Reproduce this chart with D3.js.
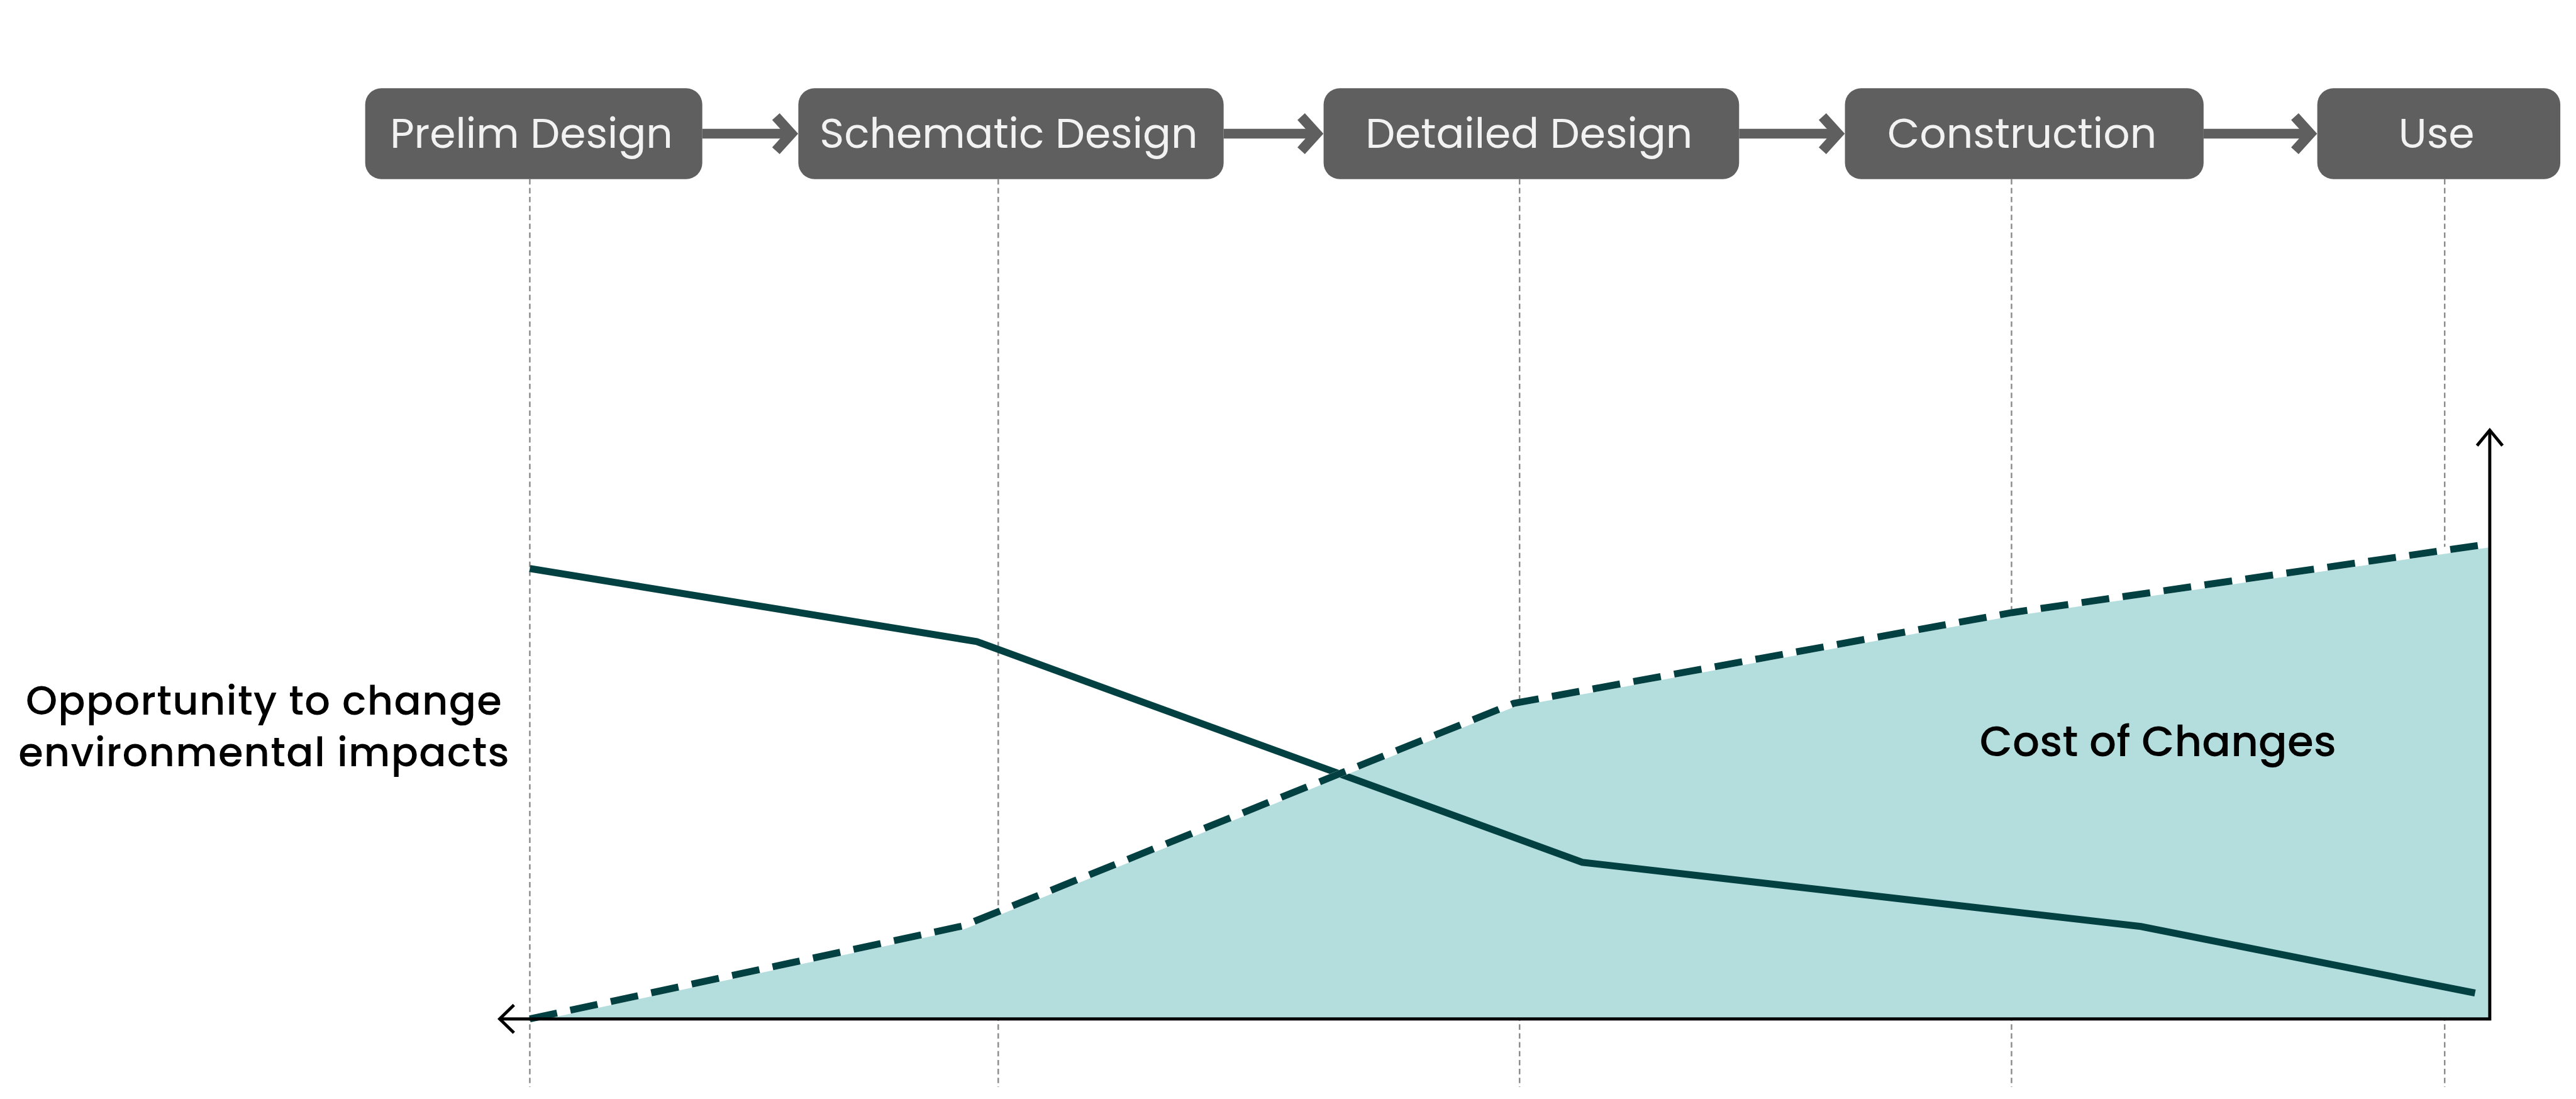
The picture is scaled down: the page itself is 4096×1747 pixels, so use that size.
<!DOCTYPE html>
<html>
<head>
<meta charset="utf-8">
<script src="https://cdn.jsdelivr.net/npm/d3@7"></script>
<style>
  html, body { margin: 0; padding: 0; background: #ffffff; overflow: hidden; }
  svg { display: block; }
</style>
</head>
<body>
<div id="chart"></div>
<script>
// ---------------- DATA ----------------
// Project stages (header boxes)
const stages = ["Prelim Design", "Schematic Design", "Detailed Design", "Construction", "Use"];
// Stage box extents, in project-progress units (same x domain as curves)
const stageStart = [-8.4, 13.7, 40.5, 67.1, 91.2];
const stageEnd   = [8.8, 35.4, 61.7, 85.4, 103.6];
// Stage marker (dashed gridline) positions, progress units
const stageMarkers = [0, 23.9, 50.5, 75.6, 97.7];

// Opportunity to change environmental impacts (solid line)
const opportunityX = [0, 22.8, 53.7, 82.2, 99.25];
const opportunityY = [76.5, 64.1, 26.6, 15.7, 4.4];

// Cost of changes (dashed line + filled area)
const costX = [0, 22.1, 50.2, 75.6, 100];
const costY = [0, 15.8, 53.6, 69.0, 80.7];

const opportunityLabel = ["Opportunity to change", "environmental impacts"];
const costLabel = "Cost of Changes";

// ---------------- LAYOUT (reference pixel space) ----------------
const W = 6661, H = 2841;
const svg = d3.select("#chart").append("svg")
  .attr("width", 4096).attr("height", 1747)
  .attr("viewBox", `0 0 ${W} ${H}`);

const FONT = "Poppins, Inter, 'Open Sans', sans-serif";
const DARK = "#034042";
const FILL = "#b4dede";

const x = d3.scaleLinear().domain([0, 100]).range([1370, 6438]);
const y = d3.scaleLinear().domain([0, 100]).range([2634, 1112]);

const boxTop = 228, boxBottom = 463;
const boxMid = (boxTop + boxBottom) / 2;

// ---- Stage dashed gridlines
svg.append("g").selectAll("line").data(stageMarkers).join("line")
  .attr("x1", d => x(d)).attr("x2", d => x(d))
  .attr("y1", boxBottom).attr("y2", 2810)
  .attr("stroke", "#8c8c8c").attr("stroke-width", 4)
  .attr("stroke-dasharray", "14 9");

// ---- Cost area
const costData = costX.map((v, i) => ({ x: v, y: costY[i] }));
const area = d3.area().x(d => x(d.x)).y0(y(0)).y1(d => y(d.y));
svg.append("path").datum(costData).attr("d", area).attr("fill", FILL);

const line = d3.line().x(d => x(d.x)).y(d => y(d.y));

// ---- Opportunity line
const oppData = opportunityX.map((v, i) => ({ x: v, y: opportunityY[i] }));
svg.append("path").datum(oppData).attr("d", line)
  .attr("fill", "none").attr("stroke", DARK).attr("stroke-width", 18)
  .attr("stroke-linejoin", "miter");

// ---- Cost dashed line (white underlay + dashes)
svg.append("path").datum(costData).attr("d", line)
  .attr("fill", "none").attr("stroke", "#ffffff").attr("stroke-width", 18);
svg.append("path").datum(costData).attr("d", line)
  .attr("fill", "none").attr("stroke", DARK).attr("stroke-width", 18)
  .attr("stroke-dasharray", "72 35");

// ---- Axes (bottom with left arrow, right with up arrow)
const axisLeft = x(0) - 78;
const axes = svg.append("g").attr("fill", "none").attr("stroke", "#000").attr("stroke-width", 8);
axes.append("path")
  .attr("d", `M${axisLeft},${y(0)} L${x(100)},${y(0)} L${x(100)},${y(100)}`)
  .attr("stroke-linejoin", "miter").attr("stroke-linecap", "butt");
axes.append("path")
  .attr("d", `M${axisLeft + 37},${y(0) - 36} L${axisLeft},${y(0)} L${axisLeft + 37},${y(0) + 36}`);
axes.append("path")
  .attr("d", `M${x(100) - 33},${y(100) + 40} L${x(100)},${y(100)} L${x(100) + 33},${y(100) + 40}`);

// ---- Stage boxes
const boxes = svg.append("g");
stages.forEach((s, i) => {
  const x0 = x(stageStart[i]), x1 = x(stageEnd[i]);
  boxes.append("rect")
    .attr("x", x0).attr("y", boxTop).attr("width", x1 - x0).attr("height", boxBottom - boxTop)
    .attr("rx", 42).attr("ry", 42).attr("fill", "#5f5f5f");
  boxes.append("text")
    .attr("x", (x0 + x1) / 2 - 6).attr("y", 382)
    .attr("text-anchor", "middle")
    .attr("font-family", FONT).attr("font-size", 108)
    .attr("fill", "#f2f2f2").text(s);
  if (i < stages.length - 1) {
    const nx = x(stageStart[i + 1]);
    const tip = nx - 18;
    boxes.append("line")
      .attr("x1", x1).attr("x2", tip - 10).attr("y1", boxMid).attr("y2", boxMid)
      .attr("stroke", "#5f5f5f").attr("stroke-width", 25);
    boxes.append("path")
      .attr("d", `M${tip - 40},${boxMid - 44} L${tip},${boxMid} L${tip - 40},${boxMid + 44}`)
      .attr("fill", "none").attr("stroke", "#5f5f5f").attr("stroke-width", 26)
      .attr("stroke-linejoin", "miter").attr("stroke-miterlimit", 10);
  }
});

// ---- Labels
opportunityLabel.forEach((t, i) => {
  svg.append("text")
    .attr("x", 683).attr("y", 1848 + i * 133)
    .attr("text-anchor", "middle")
    .attr("font-family", FONT).attr("font-size", 104).attr("font-weight", 500)
    .attr("letter-spacing", 2)
    .attr("fill", "#000").text(t);
});

svg.append("text")
  .attr("x", 5580).attr("y", 1955)
  .attr("text-anchor", "middle")
  .attr("font-family", FONT).attr("font-size", 110).attr("font-weight", 500)
  .attr("fill", "#000")
  .text(costLabel);
</script>
</body>
</html>
